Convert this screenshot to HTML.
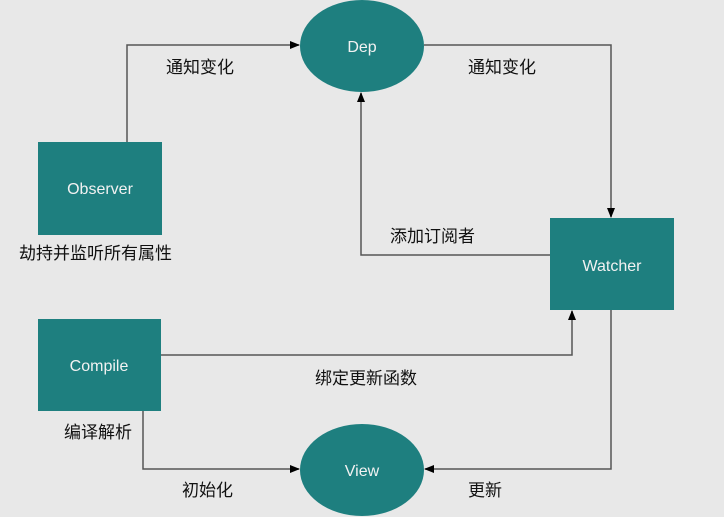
<!DOCTYPE html>
<html><head><meta charset="utf-8"><style>
html,body{margin:0;padding:0;background:#e8e8e8;}
svg{display:block;}
.c{font-family:"Liberation Sans","Noto Sans CJK SC",sans-serif;font-size:17px;fill:#111;}
.w{font-family:"Liberation Sans",sans-serif;font-size:16px;fill:#f2f2f2;text-anchor:middle;}
</style></head><body>
<svg width="724" height="517" viewBox="0 0 724 517">
<defs><marker id="a" markerWidth="10" markerHeight="10" refX="9" refY="5" orient="auto" markerUnits="userSpaceOnUse"><path d="M0,1 L10,5 L0,9 z" fill="#000"/></marker></defs>
<rect width="724" height="517" fill="#e8e8e8"/>
<g fill="none" stroke="#555" stroke-width="1.5">
<path d="M127,142 V45 H299" marker-end="url(#a)"/>
<path d="M424,45 H611 V217" marker-end="url(#a)"/>
<path d="M550,255 H361 V93" marker-end="url(#a)"/>
<path d="M161,355 H572 V311" marker-end="url(#a)"/>
<path d="M143,411 V469 H299" marker-end="url(#a)"/>
<path d="M611,310 V469 H425" marker-end="url(#a)"/>
</g>
<ellipse cx="362" cy="46" rx="62" ry="46" fill="#1e7f7f"/>
<ellipse cx="362" cy="470" rx="62" ry="46" fill="#1e7f7f"/>
<rect x="38" y="142" width="124" height="93" fill="#1e7f7f"/>
<rect x="550" y="218" width="124" height="92" fill="#1e7f7f"/>
<rect x="38" y="319" width="123" height="92" fill="#1e7f7f"/>
<text class="w" x="362" y="52">Dep</text>
<text class="w" x="362" y="476">View</text>
<text class="w" x="100" y="194">Observer</text>
<text class="w" x="612" y="271">Watcher</text>
<text class="w" x="99" y="371">Compile</text>
<text class="c" x="166" y="73">通知变化</text>
<text class="c" x="468" y="73">通知变化</text>
<text class="c" x="390" y="242">添加订阅者</text>
<text class="c" x="19" y="259">劫持并监听所有属性</text>
<text class="c" x="315" y="384">绑定更新函数</text>
<text class="c" x="64" y="438">编译解析</text>
<text class="c" x="182" y="496">初始化</text>
<text class="c" x="468" y="496">更新</text>
</svg>
</body></html>
